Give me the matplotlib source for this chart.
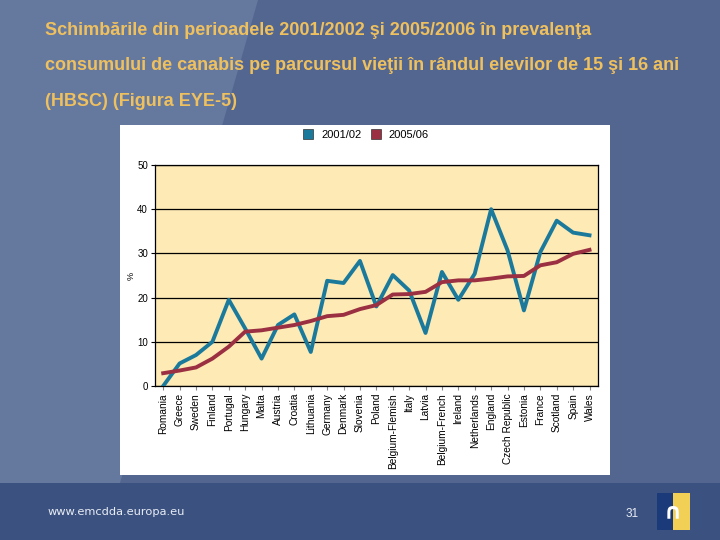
import numpy as np
import matplotlib
matplotlib.use('Agg')
import matplotlib.pyplot as plt
from matplotlib.patches import Polygon, Rectangle
from matplotlib.lines import Line2D

# Données
countries = ['Romania', 'Greece', 'Sweden', 'Finland', 'Portugal', 'Hungary', 'Malta',
             'Austria', 'Croatia', 'Lithuania', 'Germany', 'Denmark', 'Slovenia', 'Poland',
             'Belgium-Flemish', 'Italy', 'Latvia', 'Belgium-French', 'Ireland', 'Netherlands',
             'England', 'Czech Republic', 'Estonia', 'France', 'Scotland', 'Spain', 'Wales']
val_2001 = [0.0, 5.1, 7.0, 10.0, 19.5, 13.0, 6.2, 13.8, 16.2, 7.7, 23.8, 23.3, 28.3, 18.0,
            25.1, 21.6, 12.0, 25.8, 19.5, 25.4, 40.0, 30.7, 17.1, 30.3, 37.4, 34.7, 34.1]
val_2005 = [2.9, 3.5, 4.2, 6.2, 8.9, 12.3, 12.6, 13.2, 13.8, 14.7, 15.8, 16.1, 17.4, 18.3,
            20.7, 20.8, 21.3, 23.5, 23.9, 23.9, 24.3, 24.8, 24.9, 27.3, 28.0, 29.9, 30.8]
series_labels = ['2001/02', '2005/06']
y_ticks = [0, 10, 20, 30, 40, 50]

title_lines = ['Schimbările din perioadele 2001/2002 şi 2005/2006 în prevalenţa',
               'consumului de canabis pe parcursul vieţii în rândul elevilor de 15 şi 16 ani',
               '(HBSC) (Figura EYE-5)']

W, H = 720, 540
fig = plt.figure(figsize=(7.2, 5.4), dpi=100)
fig.patch.set_facecolor('#52668f')

def px(x, y):
    return (x / W, 1 - y / H)

# zone plus claire en diagonale à gauche
fig.patches.append(Polygon([px(0, 0), px(258, 0), px(120, 483), px(0, 483)], closed=True,
                           transform=fig.transFigure, facecolor='#65799f', edgecolor='none', zorder=0))
# bandeau du bas
fig.patches.append(Rectangle(px(0, 540), 1, 57 / H, transform=fig.transFigure,
                             facecolor='#3b5281', edgecolor='none', zorder=0))
# panneau blanc du graphique
fig.patches.append(Rectangle(px(120, 475), 490 / W, 350 / H, transform=fig.transFigure,
                             facecolor='white', edgecolor='none', zorder=1))

# titre
for i, line in enumerate(title_lines):
    fig.text(45 / W, 1 - (31 + 35 * i) / H, line, color='#efc05e', fontsize=13,
             fontweight='bold', family=['Liberation Sans', 'DejaVu Sans'],
             va='center', ha='left')

# axes
ax = fig.add_axes([155 / W, 1 - 386 / H, 442.7 / W, 221 / H], zorder=2)
ax.set_facecolor('#fdeab5')
x = np.arange(len(countries))
ax.plot(x, val_2001, color='#1b7a9c', lw=2.8, zorder=3)
ax.plot(x, val_2005, color='#9b3042', lw=2.8, zorder=4)
ax.set_xlim(-0.5, len(countries) - 0.5)
ax.set_ylim(0, 50)
ax.set_yticks(y_ticks)
ax.set_yticklabels([str(t) for t in y_ticks], fontsize=7, family='Liberation Sans')
ax.yaxis.grid(True, color='black', lw=0.9)
for l in ax.get_ygridlines():
    l.set_zorder(2)
ax.set_xticks(x)
ax.set_xticklabels(countries, rotation=90, fontsize=7.3, family='Liberation Sans')
ax.tick_params(axis='x', length=3, color='#888888', pad=2)
ax.tick_params(axis='y', length=3, color='black', pad=2)
for s in ax.spines.values():
    s.set_color('black')
    s.set_linewidth(0.9)
ax.set_ylabel('%', fontsize=6.5, family='Liberation Sans', labelpad=1)

# légende
handles = [Line2D([], [], marker='s', ls='none', markersize=7, markerfacecolor='#1b7a9c',
                  markeredgecolor='#333333', markeredgewidth=0.5),
           Line2D([], [], marker='s', ls='none', markersize=7, markerfacecolor='#9b3042',
                  markeredgecolor='#333333', markeredgewidth=0.5)]
fig.legend(handles, series_labels, loc='center', bbox_to_anchor=(363 / W, 1 - 135 / H), ncol=2,
           frameon=False, handletextpad=0.15, columnspacing=0.3,
           prop={'family': 'Liberation Sans', 'size': 8})

# pied de page
fig.text(48 / W, 1 - 512 / H, 'www.emcdda.europa.eu', color='#e8ecf4', fontsize=8.2,
         family='DejaVu Sans', va='center', ha='left')
fig.text(632 / W, 1 - 514 / H, '31', color='#e8ecf4', fontsize=8.5,
         family='Liberation Sans', va='center', ha='center')
fig.patches.append(Rectangle(px(657, 530), 16 / W, 37 / H, transform=fig.transFigure,
                             facecolor='#1a3a7a', edgecolor='none', zorder=2))
fig.patches.append(Rectangle(px(673, 530), 17 / W, 37 / H, transform=fig.transFigure,
                             facecolor='#f2cf55', edgecolor='none', zorder=2))
fig.text(673 / W, 1 - 512 / H, '∩', color='white', fontsize=16, fontweight='bold',
         va='center', ha='center', zorder=3)

fig.savefig('out.png', dpi=100, facecolor=fig.get_facecolor())
